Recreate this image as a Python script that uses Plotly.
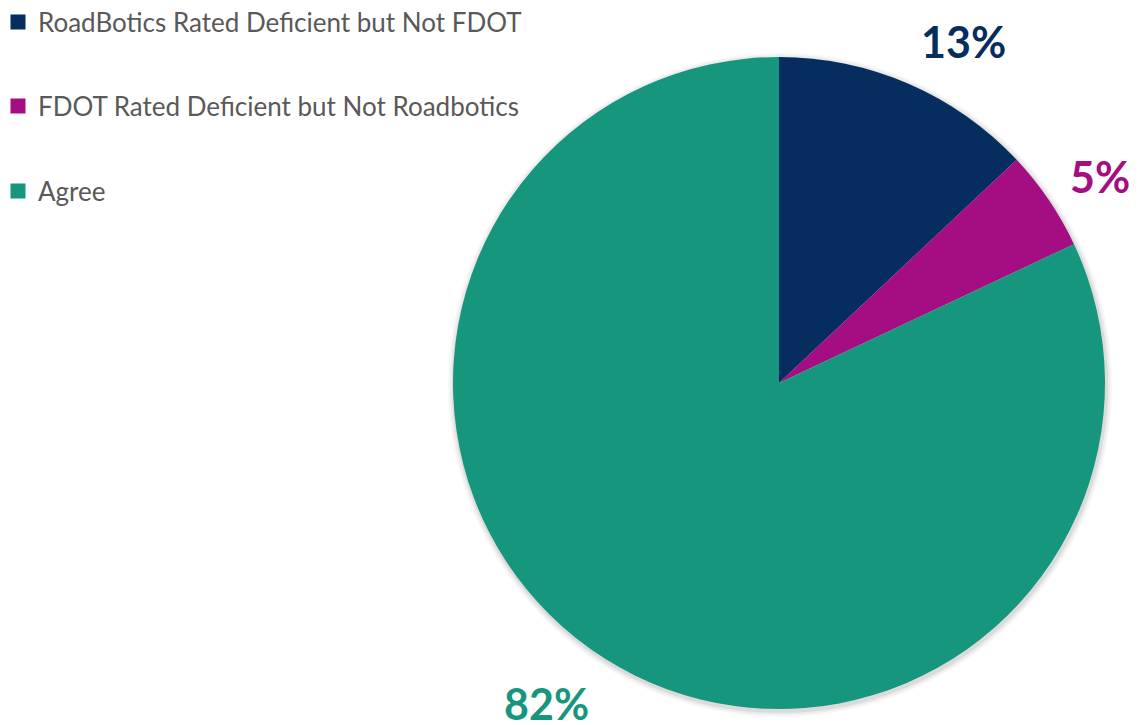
import math
import plotly.graph_objects as go

categories = ["RoadBotics Rated Deficient but Not FDOT",
              "FDOT Rated Deficient but Not Roadbotics",
              "Agree"]
values = [13, 5, 82]
colors = ["#052D5E", "#A50E82", "#16967D"]

# the page body has an 8px margin, so the figure is sized to fill the window
W, H = 1130, 717
FONT = "Lato"
OFF = 8

px_left, px_right, px_top, px_bottom = 453 - OFF, 1105 - OFF, 57 - OFF, 709 - OFF
dom_x = [px_left / W, px_right / W]
dom_y = [1 - px_bottom / H, 1 - px_top / H]

fig = go.Figure()

# soft shadow layers under the pie
for grow, alpha in [(6, 0.03), (4, 0.045), (2, 0.07)]:
    fig.add_trace(go.Pie(
        values=[1], labels=["shadow"], sort=False, textinfo="none",
        marker=dict(colors=[f"rgba(0,0,0,{alpha})"], line=dict(width=0)),
        hoverinfo="skip", showlegend=False,
        domain=dict(x=[(px_left - grow + 1) / W, (px_right + grow + 1) / W],
                    y=[1 - (px_bottom + grow + 2) / H, 1 - (px_top - grow + 2) / H]),
    ))

fig.add_trace(go.Pie(
    labels=categories, values=values, sort=False, direction="clockwise",
    rotation=0, marker=dict(colors=colors, line=dict(color="rgba(0,0,0,0)", width=0)),
    textinfo="none", showlegend=False, hoverinfo="label+percent",
    domain=dict(x=dom_x, y=dom_y),
))

# percentage labels placed along each slice's mid-angle
cx = (dom_x[0] + dom_x[1]) / 2
cy = (dom_y[0] + dom_y[1]) / 2
R = min((dom_x[1] - dom_x[0]) * W, (dom_y[1] - dom_y[0]) * H) / 2
ang_shift = [5.0, 1.5, 3.5]
rad_fac = [1.19, 1.17, 1.215]
total = sum(values)
cum = 0
for i, v in enumerate(values):
    mid = (cum + v / 2) / total * 360 + ang_shift[i]
    cum += v
    r = R * rad_fac[i]
    dx = r * math.sin(math.radians(mid))
    dy = r * math.cos(math.radians(mid))
    fig.add_annotation(
        x=cx + dx / W, y=cy + dy / H, xref="paper", yref="paper",
        text=f"{round(v / total * 100)}%", showarrow=False,
        font=dict(family=FONT, size=43, color=colors[i], weight="bold"),
        xanchor="center", yanchor="middle",
    )

# legend: one legend per item for the wide spacing
legend_y = [22 - OFF, 106 - OFF, 191 - OFF]
for i, name in enumerate(categories):
    lname = "legend" if i == 0 else f"legend{i + 1}"
    fig.add_trace(go.Scatter(
        x=[None], y=[None], mode="markers", name=name,
        marker=dict(symbol="square", size=15, color=colors[i]),
        legend=lname, showlegend=True,
    ))

legend_common = dict(
    xref="paper", yref="paper",
    x=-10 / W, xanchor="left", yanchor="middle", bgcolor="rgba(0,0,0,0)",
    font=dict(family=FONT, size=26, color="#595959"),
    itemwidth=30, tracegroupgap=0,
)
layout_legends = {}
for i in range(3):
    key = "legend" if i == 0 else f"legend{i + 1}"
    layout_legends[key] = dict(legend_common, y=1 - legend_y[i] / H)

fig.update_layout(
    width=W, height=H, margin=dict(l=0, r=0, t=0, b=0, autoexpand=False),
    paper_bgcolor="white", plot_bgcolor="white",
    xaxis=dict(visible=False), yaxis=dict(visible=False),
    **layout_legends,
)

fig.write_html("out.html")
